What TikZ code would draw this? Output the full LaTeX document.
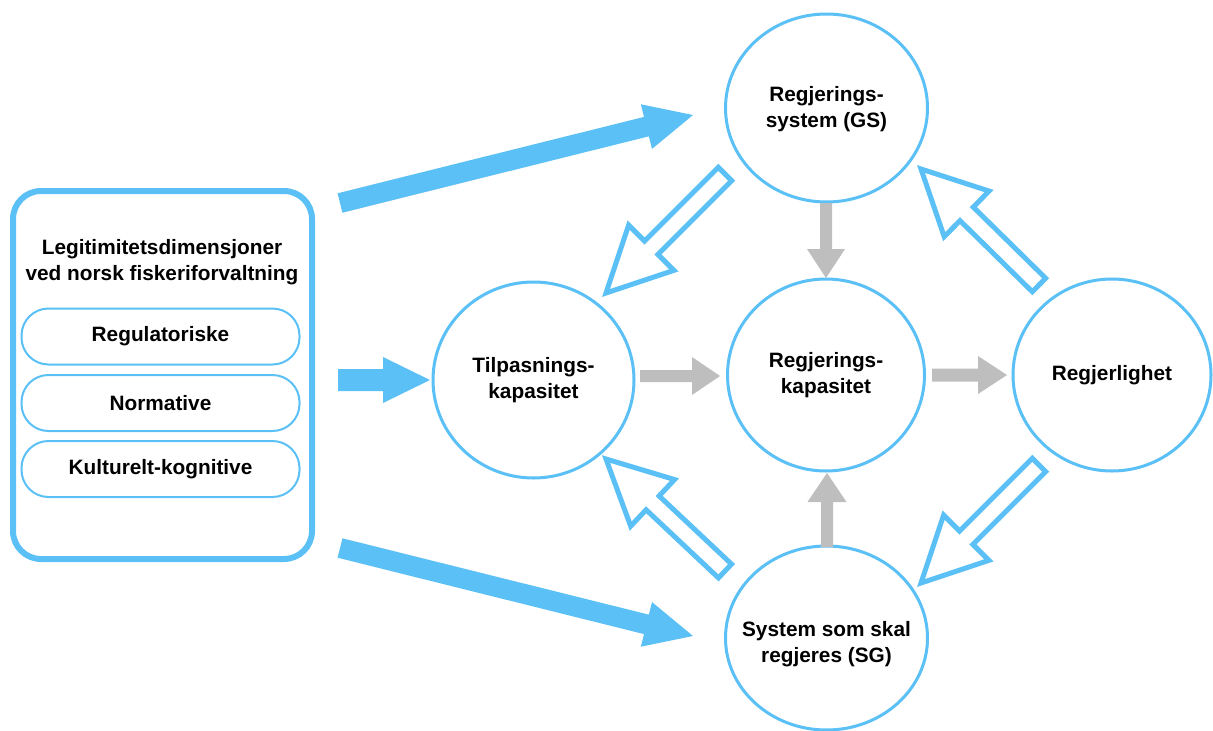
\documentclass[tikz,border=0pt]{standalone}
\usepackage{fontspec}
\setmainfont{Liberation Sans}
\usetikzlibrary{shapes.geometric,calc}

\definecolor{skyblue}{RGB}{90,192,245}
\definecolor{arrowgray}{RGB}{190,190,190}

% Block arrow from #2 to #3: shaft half width #4, head half width #5, head length #6
\newcommand\blockarrow[6]{%
  \path[#1] let \p1=(#2), \p2=(#3),
      \n1={atan2(\y2-\y1,\x2-\x1)}, \n2={veclen(\x2-\x1,\y2-\y1)} in
    {[shift={(\p1)}, rotate=\n1]
     (0,-#4) -- (\n2-#6,-#4) -- (\n2-#6,-#5) -- (\n2,0)
     -- (\n2-#6,#5) -- (\n2-#6,#4) -- (0,#4) -- cycle};%
}

\tikzset{
  labeltext/.style={font=\fontsize{20.8}{25.5}\selectfont\bfseries, align=center, text=black},
  bubble/.style={ellipse, draw=skyblue, line width=3pt, fill=white, inner sep=0pt},
  outerbox/.style={draw=skyblue, line width=6pt, rounded corners=28pt, minimum width=299pt, minimum height=368pt},
  pill/.style={draw=skyblue, line width=2pt, rounded corners=27pt, minimum width=278pt, minimum height=56pt, labeltext},
  solidarrow/.style={fill=skyblue},
  grayarrow/.style={fill=arrowgray},
  hollowarrow/.style={draw=skyblue, line width=5pt, line join=miter, fill=white},
}

\begin{document}
\begin{tikzpicture}[x=1pt, y=-1pt]
\useasboundingbox (0,0) rectangle (1213,731);

% Left panel with the three legitimacy dimensions
\node[outerbox] (legit) at (162.5,375) {};
\node[labeltext] (title) at (162,262) {Legitimitetsdimensjoner\\ved norsk fiskeriforvaltning};
\node[pill] (reg) at (160.5,336.5) {Regulatoriske};
\node[pill] (norm) at (160.5,403) {Normative};
\node[pill] (kult) at (160.5,469) {Kulturelt-kognitive};

% The five bubbles, each with its caption centred inside
\node[bubble, minimum width=202pt, minimum height=188pt,
      label={[labeltext, yshift=-1pt]center:{Regjerings-\\system (GS)}}] (gs) at (826.5,108) {};
\node[bubble, minimum width=197pt, minimum height=192pt,
      label={[labeltext]center:{Regjerings-\\kapasitet}}] (mid) at (826,375) {};
\node[bubble, minimum width=201pt, minimum height=196pt,
      label={[labeltext]center:{Tilpasnings-\\kapasitet}}] (tilp) at (533.5,380) {};
\node[bubble, minimum width=198pt, minimum height=192pt,
      label={[labeltext]center:{Regjerlighet}}] (regl) at (1112,375) {};
\node[bubble, minimum width=202pt, minimum height=184pt,
      label={[labeltext, yshift=-6pt]center:{System som skal\\regjeres (SG)}}] (sg) at (826.5,638) {};

% End points of the block arrows
\coordinate (a1s) at (340,203);  \coordinate (a1e) at (693,115);
\coordinate (a2s) at (340,548);  \coordinate (a2e) at (693,636);
\coordinate (a3s) at (338,380);  \coordinate (a3e) at (430,380);
\coordinate (g1s) at (826,203);  \coordinate (g1e) at (826,278);
\coordinate (g2s) at (640,376);  \coordinate (g2e) at (720,376);
\coordinate (g3s) at (932,375);  \coordinate (g3e) at (1007,375);
\coordinate (g4s) at (827,547);  \coordinate (g4e) at (827,473);
\coordinate (h1s) at (725,174);  \coordinate (h1e) at (606,293);
\coordinate (h2s) at (1039,285); \coordinate (h2e) at (921,169);
\coordinate (h3s) at (725,571);  \coordinate (h3e) at (606,459);
\coordinate (h4s) at (1039,465); \coordinate (h4e) at (921,583);

% Filled arrows out of the left panel
\blockarrow{solidarrow}{a1s}{a1e}{10}{23}{48}
\blockarrow{solidarrow}{a2s}{a2e}{10}{23}{48}
\blockarrow{solidarrow}{a3s}{a3e}{11}{23}{47}

% Grey arrows into and out of the centre
\blockarrow{grayarrow}{g1s}{g1e}{6}{19}{29}
\blockarrow{grayarrow}{g2s}{g2e}{6}{19}{28}
\blockarrow{grayarrow}{g3s}{g3e}{6.5}{19}{29}
\blockarrow{grayarrow}{g4s}{g4e}{6}{19.5}{29}

% Outlined feedback arrows
\blockarrow{hollowarrow}{h1s}{h1e}{9.5}{32}{64}
\blockarrow{hollowarrow}{h2s}{h2e}{9.5}{32}{64}
\blockarrow{hollowarrow}{h3s}{h3e}{9.5}{32}{64}
\blockarrow{hollowarrow}{h4s}{h4e}{9.5}{32}{64}
\end{tikzpicture}
\end{document}
